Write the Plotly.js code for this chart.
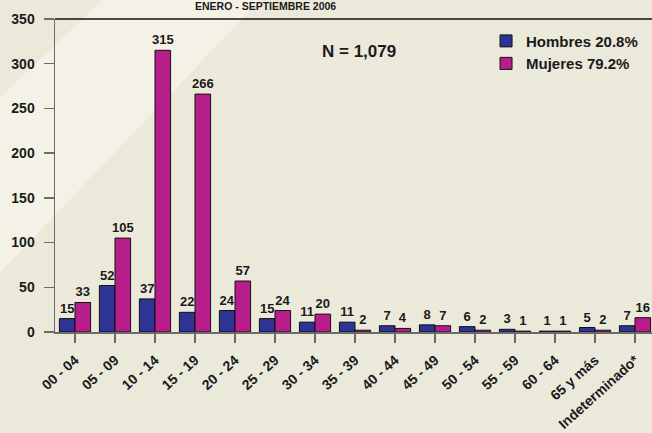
<!DOCTYPE html>
<html>
<head>
<meta charset="utf-8">
<script src="https://cdn.plot.ly/plotly-3.0.1.min.js"></script>
<style>
  html, body { margin: 0; padding: 0; background: #EBE9DA; }
  #chart { width: 652px; height: 433px; }
</style>
</head>
<body>
<div id="chart"></div>
<script>
const categories = ["00 - 04", "05 - 09", "10 - 14", "15 - 19", "20 - 24", "25 - 29", "30 - 34",
  "35 - 39", "40 - 44", "45 - 49", "50 - 54", "55 - 59", "60 - 64", "65 y más", "Indeterminado*"];
const hombres = [15, 52, 37, 22, 24, 15, 11, 11, 7, 8, 6, 3, 1, 5, 7];
const mujeres = [33, 105, 315, 266, 57, 24, 20, 2, 4, 7, 2, 1, 1, 2, 16];
const seriesNames = ["Hombres 20.8%", "Mujeres 79.2%"];
const titleText = "ENERO - SEPTIEMBRE 2006";
const nText = "N = 1,079";

const FONT = "Liberation Sans, Arial, sans-serif";
const mk = (name, vals, color) => ({
  type: "bar",
  name: name,
  x: categories,
  y: vals,
  marker: { color: color, line: { color: "#111111", width: 1 } },
  text: vals.map(String),
  textposition: "outside",
  textfont: { family: FONT, size: 13, color: "#1a1a1a", weight: "bold" },
  constraintext: "none",
  cliponaxis: false,
  hoverinfo: "x+y"
});

const data = [
  mk(seriesNames[0], hombres, "#2D3493"),
  mk(seriesNames[1], mujeres, "#B71E8A")
];

const layout = {
  width: 652, height: 433,
  margin: { l: 55, r: 0, t: 19, b: 101, pad: 0 },
  paper_bgcolor: "#EBE9DA",
  plot_bgcolor: "rgba(0,0,0,0)",
  font: { family: FONT, color: "#1a1a1a" },
  barmode: "group",
  bargap: 0.22,
  bargroupgap: 0,
  showlegend: true,
  legend: {
    x: 0.722, y: 0.982, xanchor: "left", yanchor: "top",
    bgcolor: "rgba(0,0,0,0)",
    font: { family: FONT, size: 15, weight: "bold", color: "#1a1a1a" },
    itemwidth: 30
  },
  xaxis: {
    type: "category",
    range: [-0.5, 14.425],
    showline: true, linecolor: "#6b6b6b", linewidth: 1.5,
    ticks: "outside", ticklen: 9, tickcolor: "#6b6b6b", tickwidth: 1.5,
    tickangle: -42,
    ticklabelstandoff: 4,
    tickfont: { family: FONT, size: 14, weight: "bold", color: "#1a1a1a" },
    showgrid: false, zeroline: false,
    fixedrange: true
  },
  yaxis: {
    range: [0, 350],
    dtick: 50,
    showline: true, linecolor: "#6b6b6b", linewidth: 1.5,
    ticks: "outside", ticklen: 10, tickcolor: "#6b6b6b", tickwidth: 1.5,
    ticklabelstandoff: 6,
    tickfont: { family: FONT, size: 14, weight: "bold", color: "#1a1a1a" },
    showgrid: false, zeroline: false,
    fixedrange: true
  },
  shapes: [
    {
      type: "path", xref: "paper", yref: "paper", layer: "below",
      path: "M 0.0804 1.0607 L -0.0921 0.7508 L -0.0921 0.1885 L 0.3434 1.0607 Z",
      fillcolor: "#F4F2E7", line: { width: 0 }
    },
    {
      type: "line", xref: "paper", yref: "paper", layer: "above",
      x0: 0, x1: 1.01, y0: 1, y1: 1,
      line: { color: "#111111", width: 1.5 }
    }
  ],
  annotations: [
    {
      text: titleText, xref: "paper", yref: "paper",
      x: (265 - 55) / 597, y: (332 - 6.5) / 313, xanchor: "center", yanchor: "middle",
      showarrow: false,
      font: { family: FONT, size: 10.5, weight: "bold", color: "#1a1a1a" }
    },
    {
      text: nText, xref: "paper", yref: "paper",
      x: (359 - 55) / 597, y: (332 - 51) / 313, xanchor: "center", yanchor: "middle",
      showarrow: false,
      font: { family: FONT, size: 17, weight: "bold", color: "#1a1a1a" }
    }
  ]
};

Plotly.newPlot("chart", data, layout, { staticPlot: true, displayModeBar: false });
</script>
</body>
</html>
